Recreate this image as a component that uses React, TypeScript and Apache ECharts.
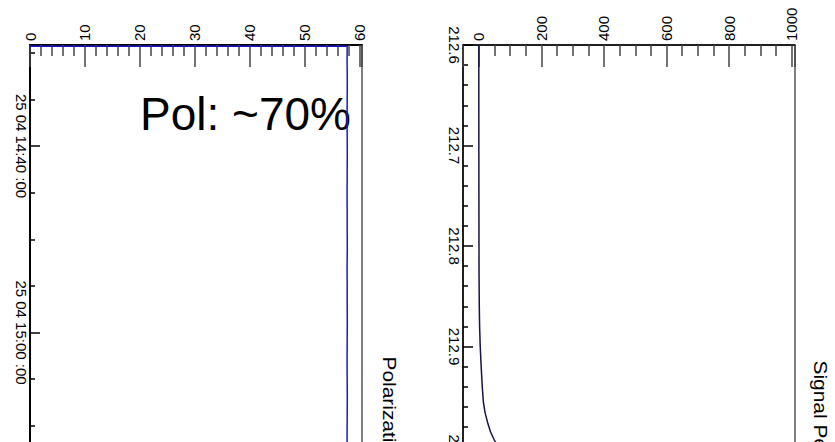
import React, { useEffect, useRef } from 'react';
import * as echarts from 'echarts';

// ---- Left panel: polarization vs time (minutes after 14:00 on 25.04) ----
const polTimes = [29.3, 29.3, 31, 33, 35, 37, 39, 41, 43, 45, 47, 49, 51, 53, 55, 57, 59, 61, 63, 65, 67, 69, 71, 73, 75, 77, 79, 81, 83];
const polValues = [0, 57.8, 57.78, 57.82, 57.8, 57.78, 57.8, 57.82, 57.8, 57.78, 57.8, 57.8, 57.82, 57.78, 57.8, 57.8, 57.82, 57.8, 57.78, 57.8, 57.82, 57.8, 57.78, 57.8, 57.8, 57.82, 57.8, 57.78, 57.8];

// ---- Right panel: signal vs run coordinate ----
const sigTimes = [212.6, 212.65, 212.7, 212.75, 212.8, 212.83, 212.86, 212.88, 212.9, 212.92, 212.94, 212.955, 212.965, 212.975, 212.985, 212.993, 213.0, 213.01, 213.02, 213.03];
const sigValues = [0.5, 0.5, 0.6, 0.8, 1.0, 1.3, 2, 3, 5, 8, 11.5, 15, 20, 28, 38, 50, 62, 85, 110, 140];

// ---- Tick labels ----
const polTicks = [0, 10, 20, 30, 40, 50, 60];
const sigTicks = [0, 200, 400, 600, 800, 1000];
const timeTicks = [40, 60];
const timeTickLabels = ['25 04 14:40 :00', '25 04 15:00 :00'];
const runTicks = [212.6, 212.7, 212.8, 212.9, 213.0];
const runTickLabels = ['212.6', '212.7', '212.8', '212.9', '213'];

const pick = (ticks: number[], labels: string[]) => (v: number) => {
  const i = ticks.findIndex((t) => Math.abs(t - v) < 1e-6);
  return i >= 0 ? labels[i] : '';
};

const FONT = 'Liberation Sans';
const tickColor = '#444';
const LABEL_SIZE = 15;

function topAxis(grid: number, min: number, max: number, step: number, minorSplit: number, ticks: number[], lineW: number) {
  return {
    type: 'value',
    gridIndex: grid,
    position: 'top',
    min,
    max,
    minInterval: step,
    maxInterval: step,
    axisLine: { show: true, onZero: false, lineStyle: { color: '#000', width: lineW } },
    axisTick: { show: true, inside: true, length: 22, lineStyle: { color: tickColor, width: 1.5 } },
    minorTick: { show: true, splitNumber: minorSplit, length: 11, lineStyle: { color: tickColor, width: 1.5 } },
    splitLine: { show: false },
    minorSplitLine: { show: false },
    axisLabel: {
      rotate: -90,
      margin: 4,
      fontSize: LABEL_SIZE,
      color: '#000',
      fontFamily: FONT,
      formatter: pick(ticks, ticks.map(String)),
    },
  };
}

function leftAxis(grid: number, min: number, max: number, step: number, minorSplit: number, ticks: number[], labels: string[], lineW: number) {
  return {
    type: 'value',
    gridIndex: grid,
    position: 'left',
    inverse: true,
    min,
    max,
    minInterval: step,
    maxInterval: step,
    axisLine: { show: true, onZero: false, lineStyle: { color: '#000', width: lineW } },
    axisTick: { show: true, inside: true, length: 10, lineStyle: { color: '#000', width: 1.5 } },
    minorTick: { show: true, splitNumber: minorSplit, length: 5, lineStyle: { color: '#000', width: 1.5 } },
    splitLine: { show: false },
    minorSplitLine: { show: false },
    axisLabel: {
      rotate: -90,
      margin: 1,
      fontSize: LABEL_SIZE,
      color: '#000',
      fontFamily: FONT,
      formatter: pick(ticks, labels),
    },
  };
}

export default function App() {
  const ref = useRef<HTMLDivElement>(null);
  useEffect(() => {
    if (!ref.current) return;
    const chart = echarts.init(ref.current, undefined, { renderer: 'svg' });
    const option: any = {
      animation: false,
      backgroundColor: '#fff',
      textStyle: { fontFamily: FONT },
      grid: [
        { left: 30, top: 45, width: 332, height: 495, show: true, borderColor: '#000', borderWidth: 1, containLabel: false, outerBoundsMode: 'none' },
        { left: 463, top: 45, width: 332, height: 495, show: true, borderColor: '#000', borderWidth: 1, containLabel: false, outerBoundsMode: 'none' },
      ],
      xAxis: [
        topAxis(0, 0, 60.5, 10, 5, polTicks, 2),
        topAxis(1, -50, 1010, 200, 4, sigTicks, 1.5),
      ],
      yAxis: [
        leftAxis(0, 29.1667, 82.25, 20, 4, timeTicks, timeTickLabels, 2),
        leftAxis(1, 212.6, 213.0925, 0.1, 5, runTicks, runTickLabels, 1.5),
      ],
      series: [
        {
          type: 'line',
          xAxisIndex: 0,
          yAxisIndex: 0,
          data: polTimes.map((t, i) => [polValues[i], t]),
          symbol: 'none',
          lineStyle: { color: '#1a1ac8', width: 1.5 },
        },
        {
          type: 'line',
          xAxisIndex: 1,
          yAxisIndex: 1,
          data: sigTimes.map((t, i) => [sigValues[i], t]),
          symbol: 'none',
          lineStyle: { color: '#14144a', width: 1.5 },
        },
      ],
      graphic: [
        {
          type: 'text',
          x: 140,
          y: 114,
          style: { text: 'Pol: ~70%', fontSize: 46, fontFamily: FONT, fill: '#000', textAlign: 'left', textVerticalAlign: 'middle' },
        },
        {
          type: 'text',
          x: 390,
          y: 356.5,
          rotation: -Math.PI / 2,
          scaleX: 1.1,
          style: { text: 'Polarization', fontSize: 19, fontFamily: FONT, fill: '#000', textAlign: 'left', textVerticalAlign: 'middle' },
        },
        {
          type: 'text',
          x: 821,
          y: 360.5,
          rotation: -Math.PI / 2,
          scaleX: 1.1,
          style: { text: 'Signal Peak', fontSize: 19, fontFamily: FONT, fill: '#000', textAlign: 'left', textVerticalAlign: 'middle' },
        },
      ],
    };
    chart.setOption(option);
    return () => chart.dispose();
  }, []);
  return (
    <div style={{ position: 'fixed', left: 0, top: 0, width: 835, height: 442, overflow: 'hidden', background: '#fff' }}>
      <div ref={ref} style={{ width: 835, height: 560 }} />
    </div>
  );
}
